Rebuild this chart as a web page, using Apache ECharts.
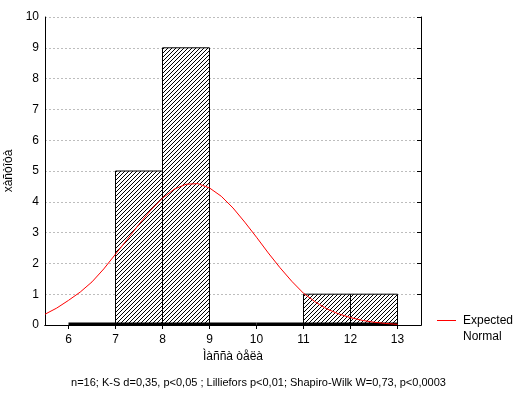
<!DOCTYPE html>
<html>
<head>
    <meta charset="UTF-8">
    <title>Histogram</title>
    <script src="https://cdn.jsdelivr.net/npm/echarts@6.0.0/dist/echarts.min.js"></script>
    <style>
        body { margin: 0; background: #fff; }
        #chart { width: 517px; height: 399px; }
    </style>
</head>
<body>
    <div id="chart"></div>
    <script>
        // bins of the histogram
        var binStart = [6, 7, 8, 9, 10, 11, 12];
        var binEnd = [7, 8, 9, 10, 11, 12, 13];
        var binCount = [0, 5, 9, 0, 0, 1, 1];

        // expected normal curve
        var curveX = [5.5, 5.75, 6, 6.25, 6.5, 6.75, 7, 7.25, 7.5, 7.75, 8, 8.25, 8.5, 8.75, 9, 9.25, 9.5, 9.75, 10, 10.25, 10.5, 10.75, 11, 11.25, 11.5, 11.75, 12, 12.25, 12.5, 12.75, 13];
        var curveY = [0.35, 0.55, 0.8, 1.07, 1.4, 1.82, 2.3, 2.78, 3.27, 3.73, 4.12, 4.41, 4.57, 4.59, 4.45, 4.18, 3.8, 3.34, 2.85, 2.34, 1.86, 1.42, 1.03, 0.75, 0.52, 0.36, 0.24, 0.15, 0.09, 0.05, 0.02];

        var xTicks = [6, 7, 8, 9, 10, 11, 12, 13];

        var font = "'Liberation Sans', Arial, sans-serif";

        // diagonal hatch, drawn pixel by pixel so it stays crisp
        var P = 4;
        var hatch = document.createElement('canvas');
        hatch.width = P;
        hatch.height = P;
        var hc = hatch.getContext('2d');
        hc.fillStyle = '#fff';
        hc.fillRect(0, 0, P, P);
        hc.fillStyle = '#000';
        for (var i = 0; i < P; i++) {
            hc.fillRect(i, P - 1 - i, 1, 1);
        }

        var bins = binStart.map(function (s, i) { return [s, binEnd[i], binCount[i]]; });
        var curve = curveX.map(function (x, i) { return [x, curveY[i]]; });

        var chart = echarts.init(document.getElementById('chart'));

        var option = {
            animation: false,
            textStyle: { fontFamily: font },
            grid: { left: 45, top: 17, width: 376, height: 308, outerBoundsMode: 'none', containLabel: false },
            xAxis: [
                {
                    type: 'value', min: 5.5, max: 13.5, position: 'bottom',
                    name: 'Ìàññà òåëà', nameLocation: 'middle', nameGap: 25,
                    nameTextStyle: { color: '#000', fontSize: 12, fontFamily: font },
                    axisLine: { show: true, lineStyle: { color: '#000', width: 1 } },
                    axisTick: { show: false, customValues: xTicks },
                    axisLabel: { customValues: xTicks, color: '#000', fontSize: 12, margin: 9, fontFamily: font },
                    splitLine: { show: false }
                },
                {
                    type: 'value', min: 5.5, max: 13.5, position: 'top',
                    axisLine: { show: true, lineStyle: { color: '#000', width: 1 } },
                    axisTick: { show: true, inside: true, length: 4, customValues: xTicks, lineStyle: { color: '#000' } },
                    axisLabel: { show: false },
                    splitLine: { show: false }
                }
            ],
            yAxis: [
                {
                    type: 'value', min: 0, max: 10, interval: 1,
                    name: 'xàñòîòà', nameLocation: 'middle', nameGap: 25, nameRotate: 90,
                    nameTextStyle: { color: '#000', fontSize: 12, fontFamily: font },
                    axisLine: { show: true, lineStyle: { color: '#000', width: 1 } },
                    axisTick: { show: false },
                    axisLabel: { color: '#000', fontSize: 12, margin: 6, fontFamily: font },
                    splitLine: { show: true, lineStyle: { color: '#bdbdbd', type: [2, 2], width: 1 } }
                },
                {
                    type: 'value', min: 0, max: 10, interval: 1, position: 'right',
                    axisLine: { show: true, lineStyle: { color: '#000', width: 1 } },
                    axisTick: { show: true, inside: true, length: 4, lineStyle: { color: '#000' } },
                    axisLabel: { show: false },
                    splitLine: { show: false }
                }
            ],
            series: [
                {
                    type: 'custom',
                    xAxisIndex: 0, yAxisIndex: 0,
                    data: bins,
                    renderItem: function (params, api) {
                        var x0 = api.value(0), x1 = api.value(1), c = api.value(2);
                        var p0 = api.coord([x0, c]);
                        var p1 = api.coord([x1, 0]);
                        var children = [];
                        if (c > 0) {
                            children.push({
                                type: 'rect',
                                shape: { x: p0[0], y: p0[1], width: p1[0] - p0[0], height: p1[1] - p0[1] },
                                style: { fill: { image: hatch, repeat: 'repeat' }, stroke: '#000', lineWidth: 1 }
                            });
                        }
                        children.push({
                            type: 'line',
                            shape: { x1: p0[0], y1: p1[1] - 1, x2: p1[0], y2: p1[1] - 1 },
                            style: { stroke: '#000', lineWidth: 3 }
                        });
                        return { type: 'group', children: children };
                    },
                    z: 1
                },
                {
                    type: 'line',
                    name: 'Expected Normal',
                    data: curve,
                    showSymbol: false,
                    smooth: false,
                    lineStyle: { color: '#ff0000', width: 1 },
                    z: 10
                }
            ],
            graphic: [
                { type: 'line', shape: { x1: 437, y1: 320.5, x2: 456, y2: 320.5 }, style: { stroke: '#ff0000', lineWidth: 1 } },
                { type: 'text', left: 463, top: 313, style: { text: 'Expected\nNormal', fill: '#000', font: '12px ' + font, lineHeight: 16 } },
                { type: 'text', left: 'center', top: 377, style: { text: 'n=16; K-S d=0,35, p<0,05 ; Lilliefors p<0,01; Shapiro-Wilk W=0,73, p<0,0003', fill: '#000', font: '11px ' + font } }
            ]
        };

        chart.setOption(option);
    </script>
</body>
</html>
